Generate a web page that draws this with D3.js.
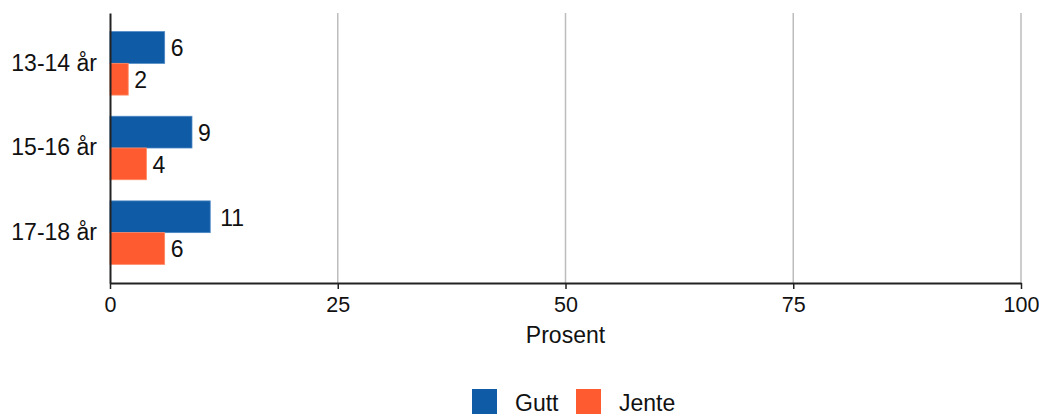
<!DOCTYPE html>
<html>
<head>
<meta charset="utf-8">
<script src="https://cdn.jsdelivr.net/npm/d3@7"></script>
<style>
  body { margin: 0; background: #fff; }
  svg { display: block; font-family: "Liberation Sans", Arial, sans-serif; }
</style>
</head>
<body>
<svg id="chart"></svg>
<script>
// data
const categories = ['13-14 år', '15-16 år', '17-18 år'];
const seriesNames = ['Gutt', 'Jente'];
const gutt = [6, 9, 11];
const jente = [2, 4, 6];
const xTicks = [0, 25, 50, 75, 100];
const xTitle = 'Prosent';

const colors = { Gutt: '#0f5ba5', Jente: '#ff5b30' };
const strokes = { Gutt: '#4a86c4', Jente: '#ff8a66' };

const width = 1039, height = 417;
const margin = { top: 13, right: 18, bottom: 134, left: 110 };
const innerW = width - margin.left - margin.right;
const innerH = height - margin.top - margin.bottom;

const svg = d3.select('#chart')
    .attr('width', width)
    .attr('height', height);

const chart = svg.append('g')
    .attr('transform', `translate(${margin.left}, ${margin.top})`);

const xscale = d3.scaleLinear()
    .domain([0, 100])
    .range([0, innerW]);

const yscale = d3.scaleBand()
    .domain(categories)
    .range([0, innerH])
    .paddingInner(0.25)
    .paddingOuter(0.22);

const sub = d3.scaleBand()
    .domain(seriesNames)
    .range([0, yscale.bandwidth()]);

// grid lines
chart.append('g')
    .selectAll('line')
    .data(xTicks.filter(d => d > 0))
    .join('line')
    .attr('x1', d => xscale(d))
    .attr('x2', d => xscale(d))
    .attr('y1', 0)
    .attr('y2', innerH)
    .attr('stroke', '#bdbdbd')
    .attr('stroke-width', 1.5);

// bars
const rows = categories.map((c, i) => ({ cat: c, Gutt: gutt[i], Jente: jente[i] }));

const groups = chart.selectAll('g.grp')
    .data(rows)
    .join('g')
    .attr('class', 'grp')
    .attr('transform', d => `translate(0, ${yscale(d.cat)})`);

groups.selectAll('rect')
    .data(d => seriesNames.map(s => ({ key: s, value: d[s] })))
    .join('rect')
    .attr('x', xscale(0))
    .attr('y', d => sub(d.key))
    .attr('width', d => xscale(d.value) - xscale(0))
    .attr('height', sub.bandwidth())
    .attr('fill', d => colors[d.key])
    .attr('stroke', d => strokes[d.key])
    .attr('stroke-width', 0.8);

groups.selectAll('text')
    .data(d => seriesNames.map(s => ({ key: s, value: d[s] })))
    .join('text')
    .attr('x', d => xscale(d.value) + (d.value >= 10 ? 10 : 6))
    .attr('y', d => sub(d.key) + sub.bandwidth() / 2)
    .attr('dy', '0.38em')
    .style('font-size', '23px')
    .attr('fill', '#111')
    .text(d => d.value);

// x axis
const xaxis = d3.axisBottom(xscale)
    .tickValues(xTicks)
    .tickSize(6)
    .tickSizeOuter(0)
    .tickPadding(8);

const xg = chart.append('g')
    .attr('transform', `translate(0, ${innerH})`)
    .call(xaxis);
xg.select('.domain').attr('stroke', '#222').attr('stroke-width', 2);
xg.selectAll('.tick line').attr('stroke', '#222').attr('stroke-width', 1.5);
xg.selectAll('.tick text')
    .style('font-size', '21.5px')
    .style('font-family', '"Liberation Sans", Arial, sans-serif')
    .attr('fill', '#111');

// y axis
const yaxis = d3.axisLeft(yscale)
    .tickSize(0)
    .tickPadding(13);

const yg = chart.append('g').call(yaxis);
yg.select('.domain').attr('stroke', '#222').attr('stroke-width', 2);
yg.selectAll('.tick text')
    .style('font-size', '23px')
    .style('font-family', '"Liberation Sans", Arial, sans-serif')
    .attr('fill', '#111');

// axis title
svg.append('text')
    .attr('x', margin.left + innerW / 2)
    .attr('y', 343)
    .attr('text-anchor', 'middle')
    .style('font-size', '23px')
    .attr('fill', '#111')
    .text(xTitle);

// legend
const legend = svg.append('g')
    .attr('transform', 'translate(472, 389)');

const legendX = [0, 104];
const items = legend.selectAll('g')
    .data(seriesNames)
    .join('g')
    .attr('transform', (d, i) => `translate(${legendX[i]}, 0)`);

items.append('rect')
    .attr('width', 25)
    .attr('height', 25)
    .attr('fill', d => colors[d]);

items.append('text')
    .attr('x', 43)
    .attr('y', 22)
    .style('font-size', '23px')
    .attr('fill', '#111')
    .text(d => d);
</script>
</body>
</html>
